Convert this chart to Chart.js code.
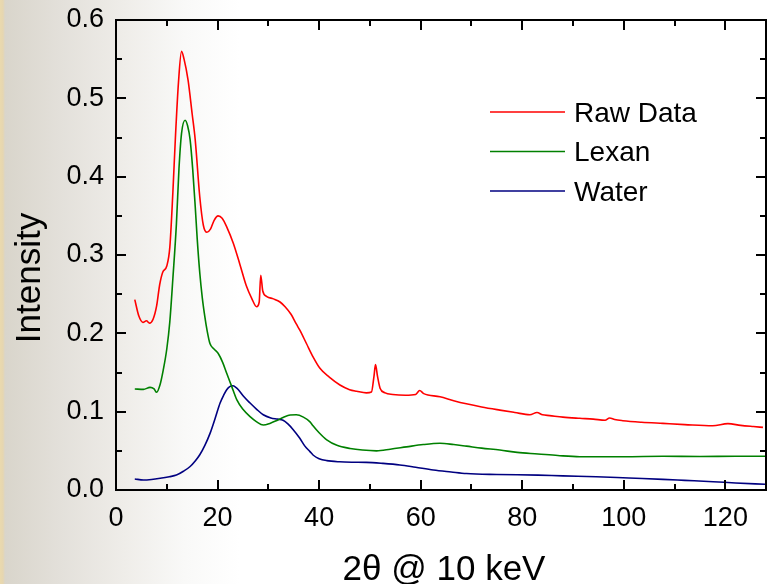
<!DOCTYPE html>
<html>
<head>
<meta charset="utf-8">
<script src="https://cdn.jsdelivr.net/npm/chart.js@4/dist/chart.umd.min.js"></script>
<style>
    html, body { margin: 0; padding: 0; }
    body {
        width: 772px; height: 584px; overflow: hidden;
        background: linear-gradient(to right, #ead9ae 0px, #e6d6b0 3px, #d9d5cb 5px, #e3e0da 60px, #efede9 125px, #f9f9f8 185px, #ffffff 240px);
    }
    #wrap { position: relative; width: 772px; height: 584px; }
</style>
</head>
<body>
<div id="wrap"><canvas id="xrd" width="772" height="584"></canvas></div>
<script>

// DATA

const rawX = [3.7, 4.5, 5.3, 6.0, 6.6, 7.3, 8.0, 8.6, 9.2, 10.0, 10.6, 11.2, 11.7, 12.3, 12.9, 13.4, 14.2, 15.0, 15.6, 16.5,
    17.2, 17.9, 18.6, 19.3, 20.1, 20.9, 21.8, 23.1, 24.4, 25.7, 26.7, 27.7, 28.2, 28.5, 28.9, 29.7, 31.0, 32.3, 33.3, 34.5,
    35.5, 36.2, 37.5, 38.8, 40.2, 42.0, 44.1, 46.0, 47.4, 49.3, 50.3, 50.8, 51.1, 51.5, 52.0, 53.0, 54.5, 57.0, 59.0, 59.8,
    60.6, 63.8, 66.5, 69.0, 72.0, 75.6, 78.5, 81.5, 82.9, 84.0, 85.4, 88.0, 91.3, 94.0, 96.3, 97.2, 98.2, 99.8, 103.5, 107.7,
    112.0, 117.5, 120.5, 123.0, 125.5, 127.4];
const rawY = [0.243, 0.222, 0.214, 0.216, 0.213, 0.218, 0.235, 0.262, 0.278, 0.286, 0.310, 0.380, 0.450, 0.520, 0.560, 0.550, 0.523, 0.480, 0.447, 0.374,
    0.338, 0.329, 0.333, 0.344, 0.350, 0.347, 0.336, 0.315, 0.288, 0.260, 0.245, 0.234, 0.240, 0.274, 0.254, 0.247, 0.244, 0.240, 0.234, 0.224,
    0.212, 0.204, 0.187, 0.170, 0.155, 0.144, 0.134, 0.128, 0.126, 0.124, 0.125, 0.145, 0.160, 0.145, 0.130, 0.124, 0.122, 0.121, 0.122, 0.127,
    0.123, 0.119, 0.114, 0.110, 0.106, 0.102, 0.099, 0.096, 0.099, 0.096, 0.095, 0.093, 0.0915, 0.0905, 0.089, 0.092, 0.090, 0.0885, 0.0865, 0.085,
    0.0835, 0.082, 0.0847, 0.0825, 0.081, 0.080];

const lexanX = [3.7, 5.4, 6.7, 7.5, 8.0, 8.7, 9.3, 10.0, 10.6, 11.2, 11.9, 12.4, 12.9, 13.6, 14.1, 14.6, 15.1, 15.6, 16.0, 16.5,
    17.0, 17.5, 17.9, 18.5, 19.3, 20.1, 21.0, 21.8, 22.8, 23.8, 25.0, 26.4, 27.7, 29.0, 30.3, 31.6, 33.0, 34.3, 35.5, 36.9,
    38.2, 38.8, 40.0, 41.5, 43.5, 46.1, 48.5, 51.3, 54.0, 57.2, 60.5, 63.8, 66.5, 69.0, 72.0, 75.6, 79.0, 83.1, 87.0, 91.3,
    100.0, 107.7, 115.0, 122.0, 127.8];
const lexanY = [0.129, 0.1285, 0.131, 0.129, 0.1247, 0.135, 0.153, 0.180, 0.215, 0.270, 0.340, 0.410, 0.455, 0.472, 0.465, 0.447, 0.410, 0.362, 0.320, 0.277,
    0.245, 0.221, 0.205, 0.187, 0.180, 0.1745, 0.163, 0.149, 0.132, 0.115, 0.103, 0.0936, 0.087, 0.083, 0.085, 0.0885, 0.093, 0.0958, 0.096, 0.093,
    0.087, 0.082, 0.073, 0.064, 0.057, 0.053, 0.051, 0.050, 0.052, 0.055, 0.058, 0.0596, 0.058, 0.056, 0.0535, 0.051, 0.048, 0.046, 0.044, 0.0425,
    0.0425, 0.043, 0.0428, 0.043, 0.043];

const waterX = [3.7, 5.4, 7.0, 8.7, 10.5, 11.9, 13.3, 14.6, 15.6, 16.5, 17.5, 18.5, 19.5, 20.5, 21.2, 21.8, 22.4, 23.0, 23.6, 24.1,
    25.2, 26.4, 27.7, 29.0, 30.5, 31.8, 32.9, 33.9, 34.9, 36.2, 37.2, 38.2, 38.8, 40.0, 41.5, 44.0, 46.5, 49.3, 52.5, 55.9,
    59.0, 62.5, 66.0, 69.0, 75.0, 83.1, 88.0, 94.6, 101.0, 107.7, 112.0, 117.6, 122.0, 127.8];
const waterY = [0.014, 0.0128, 0.0135, 0.015, 0.017, 0.019, 0.024, 0.030, 0.037, 0.045, 0.057, 0.072, 0.091, 0.111, 0.121, 0.128, 0.132, 0.133, 0.131, 0.128,
    0.119, 0.111, 0.103, 0.096, 0.092, 0.0905, 0.089, 0.084, 0.077, 0.066, 0.056, 0.049, 0.0447, 0.040, 0.0375, 0.036, 0.0355, 0.0353, 0.034, 0.032,
    0.029, 0.0255, 0.023, 0.021, 0.0198, 0.019, 0.018, 0.017, 0.0153, 0.0136, 0.0123, 0.0106, 0.009, 0.0073];

const seriesNames = ["Raw Data", "Lexan", "Water"];
const seriesColors = ["#ff0000", "#008000", "#000080"];

const xTicks = [0, 20, 40, 60, 80, 100, 120];
const yTicks = [0.0, 0.1, 0.2, 0.3, 0.4, 0.5, 0.6];

const xTitle = "2θ @ 10 keV";
const yTitle = "Intensity";

const FONT = "'Liberation Sans', Arial, sans-serif";

function pts(xs, ys) {
    return xs.map((x, i) => ({ x: x, y: ys[i] }));
}


// FRAME, INWARD TICKS, LEGEND, AXIS TITLES

const framePlugin = {
    id: "frame",
    afterDraw(chart) {
        const ctx = chart.ctx;
        const a = chart.chartArea;
        const xs = chart.scales.x;
        const ys = chart.scales.y;

        ctx.save();
        ctx.strokeStyle = "#000";
        ctx.lineWidth = 2;
        ctx.strokeRect(a.left, a.top, a.right - a.left, a.bottom - a.top);

        // x ticks, bottom and top
        const xMinor = xTicks.map(v => v + 10);
        ctx.beginPath();
        xTicks.forEach(v => {
            const p = Math.round(xs.getPixelForValue(v));
            ctx.moveTo(p, a.bottom); ctx.lineTo(p, a.bottom - 10);
            ctx.moveTo(p, a.top); ctx.lineTo(p, a.top + 10);
        });
        xMinor.forEach(v => {
            if (v >= xs.max) return;
            const p = Math.round(xs.getPixelForValue(v));
            ctx.moveTo(p, a.bottom); ctx.lineTo(p, a.bottom - 6);
            ctx.moveTo(p, a.top); ctx.lineTo(p, a.top + 6);
        });

        // y ticks, left and right
        yTicks.forEach((v, i) => {
            const p = Math.round(ys.getPixelForValue(v));
            ctx.moveTo(a.left, p); ctx.lineTo(a.left + 10, p);
            ctx.moveTo(a.right, p); ctx.lineTo(a.right - 10, p);
            if (i < yTicks.length - 1) {
                const m = Math.round(ys.getPixelForValue(v + 0.05));
                ctx.moveTo(a.left, m); ctx.lineTo(a.left + 6, m);
                ctx.moveTo(a.right, m); ctx.lineTo(a.right - 6, m);
            }
        });
        ctx.stroke();

        // legend
        ctx.font = "28px " + FONT;
        ctx.textBaseline = "middle";
        ctx.textAlign = "left";
        chart.data.datasets.forEach((ds, i) => {
            const y = 112 + i * 39.5;
            ctx.strokeStyle = ds.borderColor;
            ctx.lineWidth = 1.5;
            ctx.beginPath();
            ctx.moveTo(490, y); ctx.lineTo(565, y);
            ctx.stroke();
            ctx.fillStyle = "#000";
            ctx.fillText(ds.label, 574, y + 2);
        });

        // axis titles
        ctx.fillStyle = "#000";
        ctx.font = "35px " + FONT;
        ctx.textAlign = "center";
        ctx.textBaseline = "alphabetic";
        ctx.fillText(xTitle, (a.left + a.right) / 2 + 3, 580);

        ctx.save();
        ctx.translate(40, 278);
        ctx.rotate(-Math.PI / 2);
        ctx.fillText(yTitle, 0, 0);
        ctx.restore();

        ctx.restore();
    }
};


// CHART

const lineOpts = {
    showLine: true,
    pointRadius: 0,
    borderWidth: 1.6,
    cubicInterpolationMode: "monotone",
    fill: false
};

new Chart(document.getElementById("xrd").getContext("2d"), {
    type: "scatter",
    data: {
        datasets: [
            { ...lineOpts, label: seriesNames[0], data: pts(rawX, rawY), borderColor: seriesColors[0] },
            { ...lineOpts, label: seriesNames[1], data: pts(lexanX, lexanY), borderColor: seriesColors[1] },
            { ...lineOpts, label: seriesNames[2], data: pts(waterX, waterY), borderColor: seriesColors[2] }
        ]
    },
    options: {
        responsive: false,
        animation: false,
        layout: { padding: { top: 20, right: 6, left: 0, bottom: 0 } },
        plugins: { legend: { display: false }, tooltip: { enabled: false } },
        scales: {
            x: {
                type: "linear",
                min: 0,
                max: 128,
                grid: { display: false, drawTicks: false },
                border: { display: false },
                afterBuildTicks: s => { s.ticks = xTicks.map(v => ({ value: v })); },
                afterFit: s => { s.height = 94; },
                ticks: {
                    color: "#000",
                    padding: 12,
                    maxRotation: 0,
                    font: { family: FONT, size: 27 },
                    callback: v => String(v)
                }
            },
            y: {
                min: 0,
                max: 0.6,
                grid: { display: false, drawTicks: false },
                border: { display: false },
                afterBuildTicks: s => { s.ticks = yTicks.map(v => ({ value: v })); },
                afterFit: s => { s.width = 116; },
                ticks: {
                    color: "#000",
                    padding: 12,
                    font: { family: FONT, size: 27, lineHeight: 0.3 },
                    callback: v => Number(v).toFixed(1)
                }
            }
        }
    },
    plugins: [framePlugin]
});
</script>
</body>
</html>
